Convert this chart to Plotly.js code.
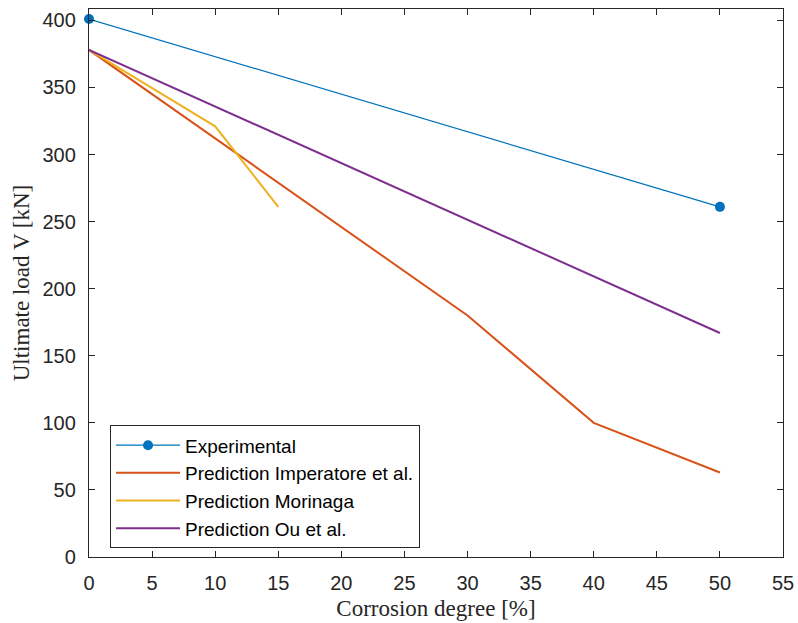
<!DOCTYPE html>
<html>
<head>
<meta charset="utf-8">
<script src="https://cdn.plot.ly/plotly-3.0.1.min.js"></script>
<style>
  html, body { margin: 0; padding: 0; background: #fff; }
  #chart { width: 798px; height: 623px; }
</style>
</head>
<body>
<div id="chart"></div>
<script>
// Corrosion degree [%] and ultimate shear load [kN] for each series
const expX = [0, 50];
const expY = [401, 261];

const imperatoreX = [0, 10, 30, 40, 50];
const imperatoreY = [378, 312, 180, 100, 63];

const morinagaX = [0, 10, 15];
const morinagaY = [378, 321, 261];

const ouX = [0, 50];
const ouY = [378, 167];

const seriesNames = [
  'Experimental',
  'Prediction Imperatore et al.',
  'Prediction Morinaga',
  'Prediction Ou et al.'
];

const xTicks = [0, 5, 10, 15, 20, 25, 30, 35, 40, 45, 50, 55];
const yTicks = [0, 50, 100, 150, 200, 250, 300, 350, 400];

const axisColor = '#262626';
const tickFont = { family: 'Liberation Sans, Arial, sans-serif', size: 20, color: axisColor };
const titleFont = { family: 'Liberation Serif, Times New Roman, serif', size: 23, color: axisColor };

const traces = [
  {
    x: expX, y: expY, name: seriesNames[0], type: 'scatter', mode: 'lines+markers',
    line: { color: '#0072BD', width: 1.2 },
    marker: { color: '#0072BD', size: 10, symbol: 'circle' },
    cliponaxis: false
  },
  {
    x: imperatoreX, y: imperatoreY, name: seriesNames[1], type: 'scatter', mode: 'lines',
    line: { color: '#D95319', width: 2 }
  },
  {
    x: morinagaX, y: morinagaY, name: seriesNames[2], type: 'scatter', mode: 'lines',
    line: { color: '#EDB120', width: 2 }
  },
  {
    x: ouX, y: ouY, name: seriesNames[3], type: 'scatter', mode: 'lines',
    line: { color: '#7E2F8E', width: 2 }
  }
];

const layout = {
  width: 798,
  height: 623,
  margin: { l: 89, r: 15, t: 9, b: 65.5, pad: 0 },
  paper_bgcolor: '#ffffff',
  plot_bgcolor: '#ffffff',
  showlegend: true,
  legend: {
    x: 0.0303, y: 0.2403, xanchor: 'left', yanchor: 'top',
    bgcolor: '#ffffff', bordercolor: axisColor, borderwidth: 1,
    font: { family: 'Liberation Sans, Arial, sans-serif', size: 19, color: '#000000' },
    itemwidth: 64
  },
  xaxis: {
    range: [0, 55],
    tickvals: xTicks,
    ticktext: xTicks.map(String),
    ticks: 'inside', ticklen: 6, tickwidth: 1, tickcolor: axisColor,
    showline: true, linecolor: axisColor, linewidth: 1.2, mirror: 'allticks',
    showgrid: false, zeroline: false,
    tickfont: tickFont,
    ticklabelstandoff: 8,
    title: { text: 'Corrosion degree [%]', font: titleFont, standoff: 6 }
  },
  yaxis: {
    range: [0, 408.5],
    tickvals: yTicks,
    ticktext: yTicks.map(String),
    ticks: 'inside', ticklen: 6, tickwidth: 1, tickcolor: axisColor,
    showline: true, linecolor: axisColor, linewidth: 1.2, mirror: 'allticks',
    showgrid: false, zeroline: false,
    tickfont: tickFont,
    ticklabelstandoff: 8,
    title: { text: 'Ultimate load V [kN]', font: titleFont, standoff: 6 }
  }
};

Plotly.newPlot('chart', traces, layout, { displayModeBar: false, staticPlot: true });
</script>
</body>
</html>
